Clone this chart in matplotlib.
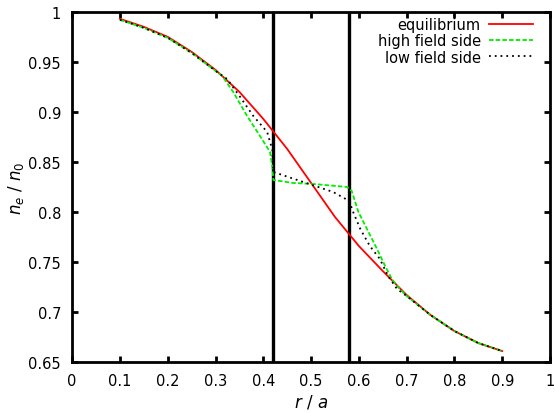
import numpy as np
import matplotlib.pyplot as plt
from matplotlib.ticker import FuncFormatter

# --- Data
r_eq  = [0.10, 0.15, 0.20, 0.25, 0.30, 0.35, 0.40, 0.45, 0.50, 0.55, 0.60,
         0.65, 0.70, 0.75, 0.80, 0.85, 0.90]
n_eq  = [0.993, 0.985, 0.975, 0.960, 0.942, 0.920, 0.893, 0.863, 0.829, 0.795, 0.766,
         0.741, 0.717, 0.697, 0.681, 0.669, 0.661]

r_hfs = [0.10, 0.15, 0.20, 0.25, 0.30, 0.314, 0.337, 0.366, 0.393, 0.414, 0.419, 0.421,
         0.462, 0.504, 0.575, 0.580, 0.585, 0.599, 0.617, 0.638, 0.655, 0.669, 0.68,
         0.70, 0.75, 0.80, 0.85, 0.90]
n_hfs = [0.992, 0.984, 0.974, 0.959, 0.941, 0.936, 0.920, 0.896, 0.876, 0.860, 0.845, 0.832,
         0.829, 0.828, 0.825, 0.823, 0.821, 0.800, 0.783, 0.763, 0.746, 0.733, 0.726,
         0.716, 0.697, 0.681, 0.669, 0.661]

r_lfs = [0.10, 0.15, 0.20, 0.25, 0.30, 0.324, 0.350, 0.379, 0.408, 0.419, 0.421, 0.477,
         0.546, 0.580, 0.588, 0.603, 0.623, 0.644, 0.661, 0.68, 0.70, 0.75, 0.80, 0.85, 0.90]
n_lfs = [0.992, 0.984, 0.974, 0.959, 0.941, 0.933, 0.916, 0.896, 0.880, 0.862, 0.840, 0.831,
         0.820, 0.811, 0.800, 0.783, 0.766, 0.753, 0.736, 0.723, 0.716, 0.697, 0.681, 0.669, 0.661]

r_walls = [0.42, 0.58]

# --- Plot
plt.rcParams['font.family'] = ['DejaVu Sans']
fig, ax = plt.subplots(1, 1, figsize=(5.55, 4.14), dpi=100)
fig.subplots_adjust(left=0.130, right=0.991, top=0.969, bottom=0.123)

for rw in r_walls:
    ax.axvline(rw, color='k', lw=2.4)
ax.plot(r_eq,  n_eq,  '-',  color='#ff0000', lw=1.3, label='equilibrium')
ax.plot(r_hfs, n_hfs, '--', color='#00ee00', lw=1.3, dashes=(2.5, 1.2), label='high field side')
ax.plot(r_lfs, n_lfs, ':',  color='k',       lw=1.3, dashes=(1, 2.2), label='low field side')

ax.set_xlim([0, 1])
ax.set_ylim([0.65, 1])
ax.set_xticks(np.arange(0, 1.01, 0.1))
ax.set_yticks(np.arange(0.65, 1.001, 0.05))
fmt = FuncFormatter(lambda v, p: '%g' % round(v, 3))
ax.xaxis.set_major_formatter(fmt)
ax.yaxis.set_major_formatter(fmt)
ax.tick_params(direction='in', top=True, right=True, width=2, length=4, labelsize=10.5, pad=8)
for s in ax.spines.values():
    s.set_linewidth(2)

ax.set_xlabel(r'$r$ / $a$', fontsize=12, labelpad=3)
ax.set_ylabel(r'$n_e$ / $n_0$', fontsize=12, labelpad=2)
ax.legend(loc='upper right', bbox_to_anchor=(0.977, 1.003), borderaxespad=0,
          frameon=False, markerfirst=False, fontsize=10.5,
          handlelength=3.0, handletextpad=0.6, labelspacing=0.1)

fig.savefig('out.png', dpi=100)
